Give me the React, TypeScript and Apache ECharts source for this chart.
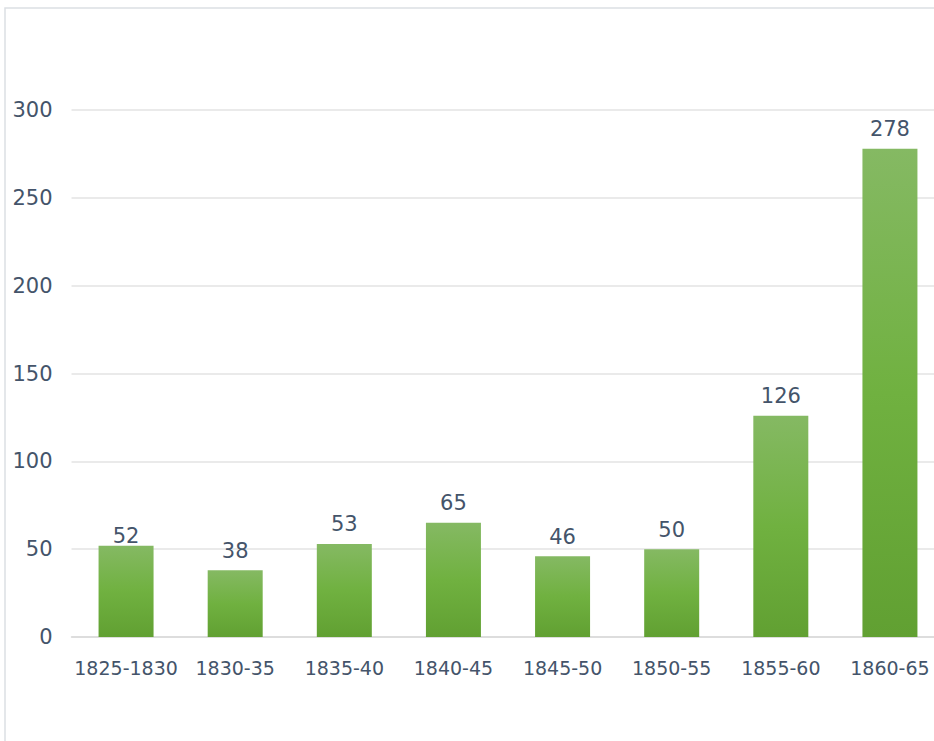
import React, { useEffect, useRef } from "react";
import * as echarts from "echarts";

const categories = ["1825-1830", "1830-35", "1835-40", "1840-45", "1845-50", "1850-55", "1855-60", "1860-65"];
const values = [52, 38, 53, 65, 46, 50, 126, 278];
const yTicks = [0, 50, 100, 150, 200, 250, 300];

export default function App() {
  const ref = useRef<HTMLDivElement>(null);
  useEffect(() => {
    const chart = echarts.init(ref.current!, null, { renderer: "svg" });
    const textColor = "#44546a";
    chart.setOption({
      animation: false,
      backgroundColor: "#ffffff",
      grid: { left: 71.5, right: 15.5, top: 110, bottom: 104, containLabel: false },
      graphic: [
        {
          type: "rect",
          shape: { x: 5, y: 8, width: 1200, height: 1000 },
          style: { fill: "none", stroke: "#dcdfe4", lineWidth: 1.5 },
          silent: true,
        },
      ],
      xAxis: {
        type: "category",
        data: categories,
        axisTick: { show: false },
        axisLine: { show: true, lineStyle: { color: "#d9d9d9", width: 1.5 } },
        axisLabel: { color: textColor, fontFamily: "DejaVu Sans", fontSize: 19, margin: 21, interval: 0 },
      },
      yAxis: {
        type: "value",
        min: yTicks[0],
        max: yTicks[yTicks.length - 1],
        interval: 50,
        axisLine: { show: false },
        axisTick: { show: false },
        splitLine: { lineStyle: { color: "#e3e3e3", width: 1.5 } },
        axisLabel: { color: textColor, fontFamily: "DejaVu Sans", fontSize: 21, margin: 19 },
      },
      series: [
        {
          type: "bar",
          data: values.map((v, i) =>
            i === 0 ? { value: v, label: { distance: -1 } } : v
          ),
          barWidth: 55,
          itemStyle: {
            color: new echarts.graphic.LinearGradient(0, 0, 0, 1, [
              { offset: 0, color: "#85b963" },
              { offset: 0.5, color: "#70b140" },
              { offset: 1, color: "#61a032" },
            ]),
          },
          label: {
            show: true,
            position: "top",
            distance: 9,
            color: textColor,
            fontFamily: "DejaVu Sans",
            fontSize: 21,
          },
        },
      ],
    });
    return () => chart.dispose();
  }, []);
  return (
    <div
      ref={ref}
      style={{ position: "fixed", left: 0, top: 0, width: 960, height: 741 }}
    />
  );
}
